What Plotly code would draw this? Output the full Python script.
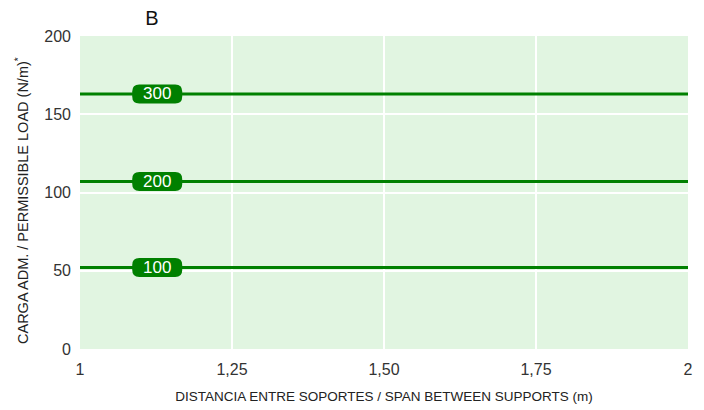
import plotly.graph_objects as go

span = [1, 2]
series_names = ["300", "200", "100"]
series_values = [163, 107, 52]
label_x = 1.127
x_tickvals = [1, 1.25, 1.5, 1.75, 2]
x_ticktext = ["1", "1,25", "1,50", "1,75", "2"]
y_tickvals = [0, 50, 100, 150, 200]

W, H = 696, 402  # page body has an 8px margin
ML, MR, MT, MB = 72, 16, 28, 61
PW, PH = W - ML - MR, H - MT - MB

GREEN = "#008000"

# rounded label box, in pixels relative to its anchor
bw, bh, r = 25, 9.5, 7
box_path = (f"M {-bw + r},{-bh} L {bw - r},{-bh} Q {bw},{-bh} {bw},{-bh + r} "
            f"L {bw},{bh - r} Q {bw},{bh} {bw - r},{bh} L {-bw + r},{bh} "
            f"Q {-bw},{bh} {-bw},{bh - r} L {-bw},{-bh + r} Q {-bw},{-bh} {-bw + r},{-bh} Z")

fig = go.Figure()
for name, v in zip(series_names, series_values):
    fig.add_trace(go.Scatter(x=span, y=[v, v], mode="lines",
                             line=dict(color=GREEN, width=3),
                             showlegend=False, hoverinfo="skip"))
    fig.add_shape(type="path", path=box_path, xref="x", yref="y",
                  xsizemode="pixel", ysizemode="pixel", xanchor=label_x, yanchor=v,
                  fillcolor=GREEN, line=dict(width=0), layer="above")
    fig.add_annotation(x=label_x, y=v, text=name, showarrow=False,
                       font=dict(family="Liberation Sans, Arial", size=17, color="white"),
                       xref="x", yref="y")

fig.add_annotation(x=(22 - 8 - ML) / PW, y=1 - (201 - 8 - MT) / PH, xref="paper", yref="paper",
                   text="CARGA ADM. / PERMISSIBLE LOAD (N/m)<sup>*</sup>", textangle=-90,
                   showarrow=False, xanchor="center", yanchor="middle",
                   font=dict(family="Liberation Sans, Arial", size=14.5, color="#222222"))

fig.update_layout(
    width=W, height=H,
    margin=dict(l=ML, r=MR, t=MT, b=MB),
    paper_bgcolor="white",
    plot_bgcolor="#E1F5E1",
    font=dict(family="Liberation Sans, Arial", color="#222222"),
    title=dict(text="B", x=(152 - 8) / W, xanchor="center", y=1 - (18 - 8) / H, yanchor="middle",
               font=dict(size=20, color="#111111")),
)
fig.update_xaxes(range=[1, 2], tickvals=x_tickvals, ticktext=x_ticktext,
                 automargin=False,
                 showgrid=True, gridcolor="white", gridwidth=2, zeroline=False,
                 showline=False, ticks="", ticklabelstandoff=9,
                 tickfont=dict(size=16, color="#333333"),
                 title=dict(text="DISTANCIA ENTRE SOPORTES / SPAN BETWEEN SUPPORTS (m)",
                            font=dict(size=13.5, color="#222222"), standoff=14))
fig.update_yaxes(range=[0, 200], tickvals=y_tickvals,
                 automargin=False,
                 showgrid=True, gridcolor="white", gridwidth=2, zeroline=False,
                 showline=False, ticks="", ticklabelstandoff=8,
                 tickfont=dict(size=16, color="#333333"))

fig.write_html("out.html")
